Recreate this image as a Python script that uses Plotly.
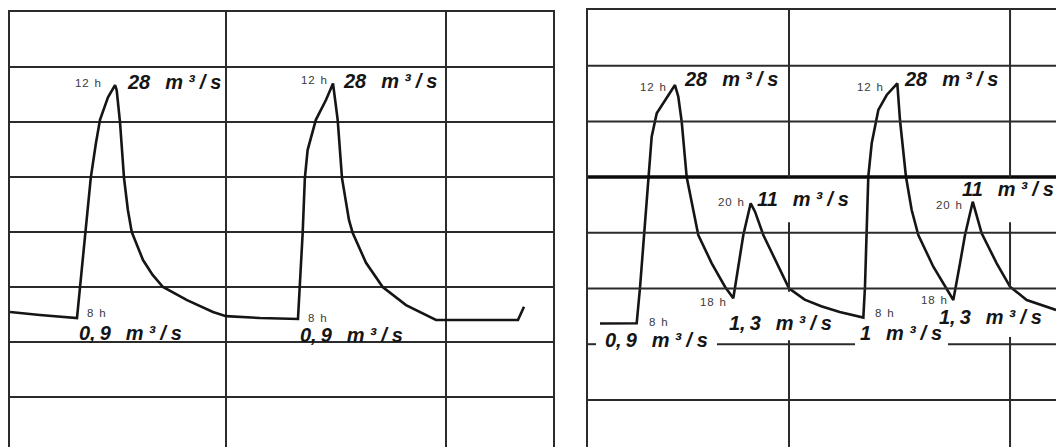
import plotly.graph_objects as go

# ---------------- data ----------------
# x = hour of the recording (grid line every 24 h), y = height on the chart grid (one cell = 1)
left_hours = [0.45, 3.7, 7.75, 8.08, 8.62, 9.25, 9.8, 10.26, 11.13, 11.9, 12.08, 12.44, 12.88,
              13.3, 13.72, 14.95, 16.0, 17.13, 19.75, 22.58, 24.0, 27.7, 31.85,
              32.36, 32.6, 32.9, 33.8, 34.9, 35.67, 36.18, 36.65, 37.41, 37.82, 39.27,
              41.09, 43.63, 46.9, 55.84, 56.5]
left_level = [1.545, 1.49, 1.436, 2.0, 2.98, 3.98, 4.6, 5.04, 5.45, 5.67, 5.58, 5.0, 3.98,
              3.4, 3.0, 2.49, 2.22, 2.0, 1.76, 1.545, 1.47, 1.436, 1.418,
              2.98, 3.98, 4.49, 5.04, 5.4, 5.7, 5.04, 3.98, 3.22, 2.98, 2.44,
              2.0, 1.67, 1.4, 1.4, 1.64]

right_hours = [3.48, 7.46, 7.82, 8.29, 8.8, 9.09, 9.64, 10.54, 11.62, 11.98, 12.35, 12.89,
               13.44, 14.15, 15.61, 17.05, 17.95, 19.04, 19.84, 20.31, 21.21, 22.66, 24.0,
               25.7, 27.5, 29.5, 32.07, 32.25, 32.44, 32.61, 32.98, 33.7, 34.61,
               35.76, 36.05, 36.7, 37.32, 38.04, 39.67, 41.84, 42.57, 43.11, 43.95, 44.92,
               46.55, 48.0, 49.81, 53.0]
right_level = [1.372, 1.375, 2.009, 2.96, 4.0, 4.725, 5.145, 5.384, 5.653, 5.443, 4.995, 4.0,
               3.53, 2.96, 2.452, 2.032, 1.824, 2.96, 3.53, 3.379, 2.96, 2.452, 2.004,
               1.8, 1.68, 1.58, 1.479, 2.032, 2.96, 4.007, 4.607, 5.205, 5.474,
               5.684, 5.025, 4.007, 3.409, 2.96, 2.391, 1.794, 2.452, 2.96, 3.558, 2.991,
               2.452, 2.032, 1.794, 1.614]

# labels: text, hour, level
left_label_text = ["12 h", "28 m³/s", "12 h", "28 m³/s", "8 h", "8 h", "0,9 m³/s", "0,9 m³/s"]
left_label_hour = [10.6, 12.99, 35.2, 36.54, 8.6, 32.7, 7.75, 31.85]
left_label_level = [5.7, 5.73, 5.76, 5.75, 1.53, 1.44, 1.164, 1.127]

right_label_text = ["12 h", "28 m³/s", "12 h", "28 m³/s", "20 h", "11 m³/s", "20 h", "11 m³/s",
                    "18 h", "18 h", "1,3 m³/s", "1,3 m³/s", "8 h", "8 h", "0,9 m³/s", "1 m³/s"]
right_label_hour = [10.9, 12.35, 34.4, 36.24, 19.3, 20.31, 43.0, 42.6,
                    17.4, 41.4, 17.24, 40.04, 8.55, 33.15, 3.84, 31.52]
right_label_level = [5.62, 5.76, 5.62, 5.76, 3.56, 3.6, 3.5, 3.79,
                     1.76, 1.8, 1.375, 1.494, 1.404, 1.555, 1.075, 1.196]

# ---------------- styling ----------------
W, H = 1056, 447
INK = "#151515"
GRID = "#2b2b2b"
FONT = "Liberation Sans, Arial, sans-serif"


def spaced(t):
    # the lettering on the original sheet is widely tracked
    num, unit = t.split(" ")
    return num.replace(",", ",\u2009") + "\u2002\u2005" + "\u2005".join(unit)


def spaced_small(t):
    num, unit = t.split(" ")
    return "\u200a".join(num) + "\u2002" + unit


def label_ann(text, h, lv, xref, yref):
    if text.endswith(" h"):
        anchor = "left" if text == "8 h" else "right"
        return dict(x=h, y=lv, xref=xref, yref=yref, text=spaced_small(text), showarrow=False,
                    xanchor=anchor, yanchor="middle",
                    font=dict(family=FONT, size=11.5, color="#3a3a3a"))
    return dict(x=h, y=lv, xref=xref, yref=yref, text=spaced(text), showarrow=False,
                xanchor="left", yanchor="middle",
                font=dict(family=FONT, size=20, color=INK, weight="bold", style="italic"))


fig = go.Figure()
fig.add_trace(go.Scatter(x=left_hours, y=left_level, mode="lines", xaxis="x", yaxis="y",
                         line=dict(color=INK, width=2.6), hoverinfo="skip", showlegend=False))
fig.add_trace(go.Scatter(x=right_hours, y=right_level, mode="lines", xaxis="x2", yaxis="y2",
                         line=dict(color=INK, width=2.6), hoverinfo="skip", showlegend=False))

annotations = [label_ann(t, h, lv, "x", "y")
               for t, h, lv in zip(left_label_text, left_label_hour, left_label_level)]
annotations += [label_ann(t, h, lv, "x2", "y2")
                for t, h, lv in zip(right_label_text, right_label_hour, right_label_level)]

# right sheet: grid drawn piece by piece (the scan shows gaps and one heavy line)
shapes = []
y2_bottom = -0.8456
for lv in [0, 2, 3, 5, 6]:
    shapes.append(dict(type="line", xref="x2", yref="y2", x0=2.18, x1=53.5, y0=lv, y1=lv,
                       line=dict(color=GRID, width=2)))
shapes.append(dict(type="line", xref="x2", yref="y2", x0=2.18, x1=53.5, y0=4, y1=4,
                   line=dict(color="#0a0a0a", width=3.5)))
for a, b in [(2.18, 3.05), (16.18, 31.17), (41.26, 53.5)]:
    shapes.append(dict(type="line", xref="x2", yref="y2", x0=a, x1=b, y0=1, y1=1,
                       line=dict(color=GRID, width=2)))
v_pieces = {24: [(7, 4.0), (3.19, 1.94), (1.07, y2_bottom)],
            48: [(7, 4.0), (3.19, 2.03), (1.13, y2_bottom)]}
for hx, pieces in v_pieces.items():
    for a, b in pieces:
        shapes.append(dict(type="line", xref="x2", yref="y2", x0=hx, x1=hx, y0=a, y1=b,
                           line=dict(color=GRID, width=2)))

axis_common = dict(showticklabels=False, ticks="", zeroline=False, fixedrange=True)

fig.update_layout(
    width=W, height=H,
    margin=dict(l=0, r=0, t=0, b=0),
    paper_bgcolor="white", plot_bgcolor="white",
    showlegend=False,
    xaxis=dict(domain=[10 / W, 553 / W], range=[0.445, 59.66], side="top",
               showline=True, linecolor=GRID, linewidth=2,
               showgrid=True, tickvals=[24, 48], gridcolor=GRID, gridwidth=2, **axis_common),
    yaxis=dict(domain=[0, (H - 12) / H], range=[-0.909, 7], anchor="x",
               showline=True, mirror=True, linecolor=GRID, linewidth=2,
               showgrid=True, tickvals=[0, 1, 2, 3, 4, 5, 6], gridcolor=GRID, gridwidth=2,
               **axis_common),
    xaxis2=dict(domain=[588 / W, 1.0], range=[2.176, 52.99], side="top", anchor="y2",
                showline=True, linecolor=GRID, linewidth=2, showgrid=False, **axis_common),
    yaxis2=dict(domain=[0, (H - 10) / H], range=[y2_bottom, 7], anchor="x2",
                showline=True, mirror=False, linecolor=GRID, linewidth=2, showgrid=False,
                **axis_common),
    annotations=annotations,
    shapes=shapes,
)

fig.write_html(
    "out.html",
    config={"displayModeBar": False, "staticPlot": True},
    post_script="document.body.style.margin='0';document.body.style.overflow='hidden';",
)
